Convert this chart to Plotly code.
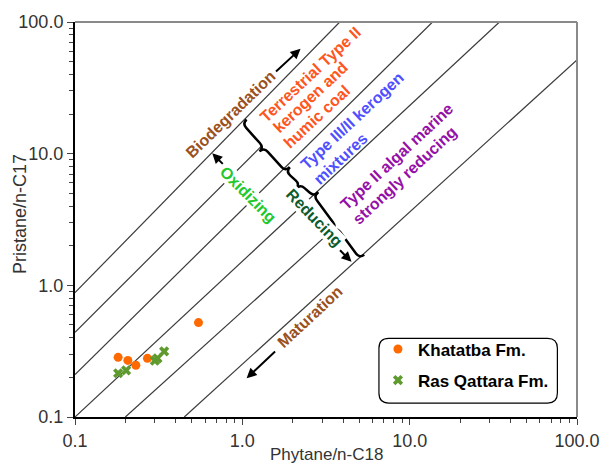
import plotly.graph_objects as go

# ---------------- data ----------------
series_names = ["Khatatba Fm.", "Ras Qattara Fm."]
khatatba_phy = [0.547, 0.181, 0.207, 0.231, 0.271]
khatatba_pri = [0.521, 0.284, 0.269, 0.247, 0.279]
rasq_phy = [0.341, 0.311, 0.300, 0.202, 0.181]
rasq_pri = [0.315, 0.279, 0.268, 0.226, 0.215]

# reference lines (start / end in data units)
line_x0 = [0.1, 0.1, 0.1, 0.1, 0.2, 0.45]
line_y0 = [0.88, 0.44, 0.21, 0.1, 0.1, 0.1]
line_x1 = [3.82, 1.3, 13.7, 34.4, 3.57, 100.0]
line_y1 = [100.0, 11.4, 100.0, 100.0, 2.73, 51.6]

major_ticks = [0.1, 1, 10, 100]
major_text = ["0.1", "1.0", "10.0", "100.0"]
minor_ticks = [m * d for d in (0.1, 1, 10) for m in range(2, 10)]

FONT = "Liberation Sans, Arial, sans-serif"
W, H = 612, 469
L, R, T, B = 75, 25, 20, 52
PW, PH = W - L - R, H - T - B


def pp(px, py):
    return (px - L) / PW, (T + PH - py) / PH


fig = go.Figure()

for i in range(len(line_x0)):
    fig.add_trace(go.Scatter(x=[line_x0[i], line_x1[i]], y=[line_y0[i], line_y1[i]],
                             mode="lines", line=dict(color="#3a3a3a", width=1.2),
                             showlegend=False, hoverinfo="skip"))

fig.add_trace(go.Scatter(x=khatatba_phy, y=khatatba_pri, mode="markers", name=series_names[0],
                         legendgroup="a",
                         marker=dict(symbol="circle", size=9, color="#ff6a00")))
fig.add_trace(go.Scatter(x=rasq_phy, y=rasq_pri, mode="markers", name=series_names[1],
                         legendgroup="b",
                         marker=dict(symbol="x", size=9, color="#5e9a2e")))

ann = []


def txt(text, px, py, color, angle, size=16, bg=None):
    x, y = pp(px, py)
    d = dict(text="<b>" + text + "</b>", x=x, y=y, xref="paper", yref="paper",
             showarrow=False, textangle=angle, xanchor="center", yanchor="middle",
             font=dict(family=FONT, size=size, color=color))
    if bg:
        d["bgcolor"] = bg
        d["borderpad"] = 0
    ann.append(d)


def arrow(tx, ty, sx, sy):
    x, y = pp(tx, ty)
    ann.append(dict(text="", x=x, y=y, xref="paper", yref="paper", showarrow=True,
                    ax=sx - tx, ay=sy - ty, arrowhead=2, arrowsize=1, arrowwidth=2,
                    arrowcolor="black"))


BROWN = "#9a5020"
txt("Biodegradation", 233.5, 113, BROWN, -44)
arrow(305, 47, 279, 71)
txt("Terrestrial Type II", 315, 73, "#ff5520", -43)
txt("kerogen and", 315, 96, "#ff5520", -43)
txt("humic coal", 322, 115, "#ff5520", -43)
txt("Type III/II kerogen", 358, 119, "#4f4fff", -43)
txt("mixtures", 346, 157, "#4f4fff", -43)
txt("Type II algal marine", 403, 155, "#9410a8", -43)
txt("strongly reducing", 411, 174, "#9410a8", -43)
txt("Oxidizing", 251.5, 193.5, "#22c82a", 45, bg="white")
arrow(215, 152, 227, 164)
txt("Reducing", 319, 216.5, "#0d5a2c", 46, bg="white")
arrow(357, 261, 344, 248)
txt("Maturation", 315, 316, BROWN, -43)
arrow(250, 378, 280, 350)

# axis titles
x, y = pp(331, 455)
ann.append(dict(text="Phytane/n-C18", x=x, y=y, xref="paper", yref="paper", showarrow=False,
                xanchor="center", yanchor="middle",
                font=dict(family=FONT, size=17, color="#333333")))
x, y = pp(19, 213)
ann.append(dict(text="Pristane/n-C17", x=x, y=y, xref="paper", yref="paper", showarrow=False,
                xanchor="center", yanchor="middle",
                textangle=-90, font=dict(family=FONT, size=18, color="#333333")))

shapes = []


def brace(p0, p1, a=6.0):
    (x0, y0), (x1, y1) = p0, p1
    dx, dy = x1 - x0, y1 - y0
    ln = (dx * dx + dy * dy) ** 0.5
    ux, uy = dx / ln, dy / ln
    nx, ny = -uy, ux
    mx, my = (x0 + x1) / 2, (y0 + y1) / 2

    def P(bx, by, ku, kn):
        return pp(bx + ux * ku + nx * kn, by + uy * ku + ny * kn)

    pts = [
        ("M", [P(x0, y0, 0, 0)]),
        ("Q", [P(x0, y0, 0, a), P(x0, y0, a, a)]),
        ("L", [P(mx, my, -a, a)]),
        ("Q", [P(mx, my, 0, a), P(mx, my, 0, 2 * a)]),
        ("Q", [P(mx, my, 0, a), P(mx, my, a, a)]),
        ("L", [P(x1, y1, -a, a)]),
        ("Q", [P(x1, y1, 0, a), P(x1, y1, 0, 0)]),
    ]
    s = ""
    for cmd, ps in pts:
        s += cmd + " " + " ".join(f"{px:.5f},{py:.5f}" for px, py in ps) + " "
    shapes.append(dict(type="path", path=s.strip(), xref="paper", yref="paper",
                       line=dict(color="black", width=2.5)))


brace((250, 118), (294, 166))
brace((294, 166), (323, 191))
brace((323, 191), (370, 254))

# frame top/right
shapes.append(dict(type="line", xref="paper", yref="paper", x0=0, x1=1, y0=1, y1=1,
                   line=dict(color="#8a8a8a", width=2)))
shapes.append(dict(type="line", xref="paper", yref="paper", x0=1, x1=1, y0=0, y1=1,
                   line=dict(color="#8a8a8a", width=2)))

# rounded legend box
bx0, by0, bx1, by1, r = 385, 338, 567, 403, 10
rx, ry = r / PW, r / PH
X0, Y1 = pp(bx0, by0)
X1, Y0 = pp(bx1, by1)
path = (f"M {X0+rx},{Y1} L {X1-rx},{Y1} Q {X1},{Y1} {X1},{Y1-ry} L {X1},{Y0+ry} "
        f"Q {X1},{Y0} {X1-rx},{Y0} L {X0+rx},{Y0} Q {X0},{Y0} {X0},{Y0+ry} "
        f"L {X0},{Y1-ry} Q {X0},{Y1} {X0+rx},{Y1} Z")
shapes.append(dict(type="path", path=path, xref="paper", yref="paper",
                   line=dict(color="black", width=1.2), fillcolor="rgba(0,0,0,0)"))

axis_common = dict(type="log", range=[-1, 2], showgrid=False, zeroline=False,
                   showline=True, linecolor="black", linewidth=2, mirror=False,
                   ticks="outside", ticklen=6, tickcolor="#444", tickwidth=1,
                   tickvals=major_ticks, ticktext=major_text,
                   tickfont=dict(family=FONT, size=18, color="#333333"),
                   minor=dict(ticks="outside", ticklen=4, tickcolor="#444",
                              tickvals=minor_ticks, showgrid=False))

lx, ly = pp(384, 331)
fig.update_layout(
    width=W, height=H, margin=dict(l=L, r=R, t=T, b=B),
    paper_bgcolor="white", plot_bgcolor="white",
    xaxis=axis_common, yaxis=axis_common,
    showlegend=True,
    legend=dict(x=lx, y=ly, xanchor="left", yanchor="top", bgcolor="rgba(0,0,0,0)",
                borderwidth=0, tracegroupgap=6,
                font=dict(family=FONT, size=17, color="black", weight="bold")),
    annotations=ann, shapes=shapes,
)

fig.write_html("out.html", config={"displayModeBar": False},
               post_script="document.body.style.margin='0';document.body.style.overflow='hidden';")
